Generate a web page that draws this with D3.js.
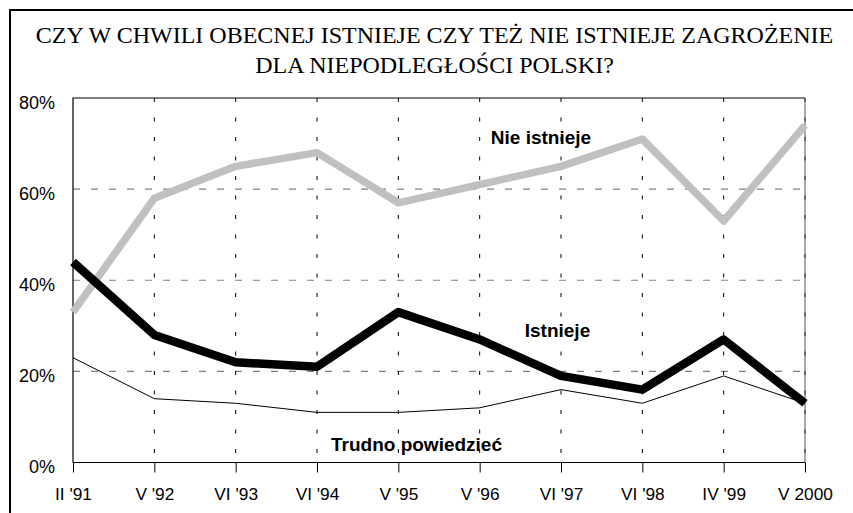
<!DOCTYPE html>
<html>
<head>
<meta charset="utf-8">
<script src="https://cdn.jsdelivr.net/npm/d3@7"></script>
<style>
  body { margin: 0; background: #fff; }
  svg { display: block; }
</style>
</head>
<body>
<svg id="chart" width="853" height="513"></svg>
<script>
    "use strict";
    // survey dates
    var categories = ["II '91", "V '92", "VI '93", "VI '94", "V '95", "V '96", "VI '97", "VI '98", "IV '99", "V 2000"];
    // answers in percent
    var nieIstnieje = [33, 58, 65, 68, 57, 61, 65, 71, 53, 74];
    var istnieje = [44, 28, 22, 21, 33, 27, 19, 16, 27, 13];
    var trudno = [23, 14, 13, 11, 11, 12, 16, 13, 19, 13];
    var yTicks = [0, 20, 40, 60, 80];
    var titleLines = ["CZY W CHWILI OBECNEJ ISTNIEJE CZY TEŻ NIE ISTNIEJE ZAGROŻENIE",
                      "DLA NIEPODLEGŁOŚCI POLSKI?"];

    var svg = d3.select("#chart");
    var plotLeft = 73, plotRight = 805, plotTop = 98, plotBottom = 462.5;
    var sans = "'Liberation Sans', Arial, sans-serif";

    var x = d3.scalePoint().domain(categories).range([plotLeft, plotRight]);
    var y = d3.scaleLinear().domain([0, 80]).range([plotBottom, plotTop]);

    // outer frame
    svg.append("path")
        .attr("d", "M10,520 V10 H860")
        .attr("fill", "none").attr("stroke", "#000").attr("stroke-width", 2);

    // title
    svg.append("g").selectAll("text").data(titleLines).enter().append("text")
        .attr("x", 434.5).attr("y", function (d, i) { return 43 + i * 29.5; })
        .attr("text-anchor", "middle")
        .attr("font-family", "'Liberation Serif', 'Times New Roman', serif")
        .attr("font-size", 24)
        .text(function (d) { return d; });

    // grid
    svg.append("g").selectAll("line").data([20, 40, 60]).enter().append("line")
        .attr("x1", plotLeft).attr("x2", plotRight)
        .attr("y1", function (d) { return y(d); }).attr("y2", function (d) { return y(d); })
        .attr("stroke", "#808080").attr("stroke-width", 1.2).attr("stroke-dasharray", "7,11");
    svg.append("g").selectAll("line").data(categories.slice(1)).enter().append("line")
        .attr("x1", function (d) { return x(d); }).attr("x2", function (d) { return x(d); })
        .attr("y1", plotTop).attr("y2", plotBottom)
        .attr("stroke", "#000").attr("stroke-width", 1).attr("stroke-dasharray", "4,15.5");

    // plot frame
    svg.append("path")
        .attr("d", "M" + plotRight + "," + plotTop + " H" + plotLeft + " V" + plotBottom + " H" + plotRight)
        .attr("fill", "none").attr("stroke", "#000").attr("stroke-width", 1.2);
    svg.append("line").attr("x1", plotRight).attr("x2", plotRight).attr("y1", plotTop).attr("y2", plotBottom)
        .attr("stroke", "#555").attr("stroke-width", 1);

    // axes
    var xAxis = svg.append("g").attr("transform", "translate(0," + plotBottom + ")")
        .call(d3.axisBottom(x).tickSize(10).tickPadding(0));
    xAxis.select(".domain").remove();
    xAxis.selectAll("text").attr("font-size", 17.3).attr("fill", "#000")
        .attr("dy", null).attr("y", 37)
        .attr("font-family", sans);

    var yAxis = svg.append("g").attr("transform", "translate(55,0)")
        .call(d3.axisLeft(y).tickValues(yTicks).tickSize(0).tickPadding(0)
            .tickFormat(function (d) { return d + "%"; }));
    yAxis.select(".domain").remove();
    yAxis.selectAll("text").attr("font-size", 18).attr("fill", "#000")
        .attr("dy", null).attr("y", 10)
        .attr("font-family", sans);

    // series
    var line = d3.line()
        .x(function (d, i) { return x(categories[i]); })
        .y(function (d) { return y(d); });
    var series = [
        { values: nieIstnieje, color: "#c0c0c0", width: 7.5 },
        { values: trudno, color: "#000", width: 1 },
        { values: istnieje, color: "#000", width: 8.5 }
    ];
    svg.append("g").selectAll("path").data(series).enter().append("path")
        .attr("d", function (d) { return line(d.values); })
        .attr("fill", "none")
        .attr("stroke", function (d) { return d.color; })
        .attr("stroke-width", function (d) { return d.width; })
        .attr("stroke-linejoin", "round");

    // labels
    var labels = [
        { text: "Nie istnieje", x: 541, y: 144 },
        { text: "Istnieje", x: 557.5, y: 336.5 },
        { text: "Trudno powiedzieć", x: 416.5, y: 450.5 }
    ];
    svg.append("g").selectAll("text").data(labels).enter().append("text")
        .attr("x", function (d) { return d.x; }).attr("y", function (d) { return d.y; })
        .attr("text-anchor", "middle")
        .attr("font-family", sans)
        .attr("font-weight", "bold").attr("font-size", 19)
        .text(function (d) { return d.text; });
</script>
</body>
</html>
